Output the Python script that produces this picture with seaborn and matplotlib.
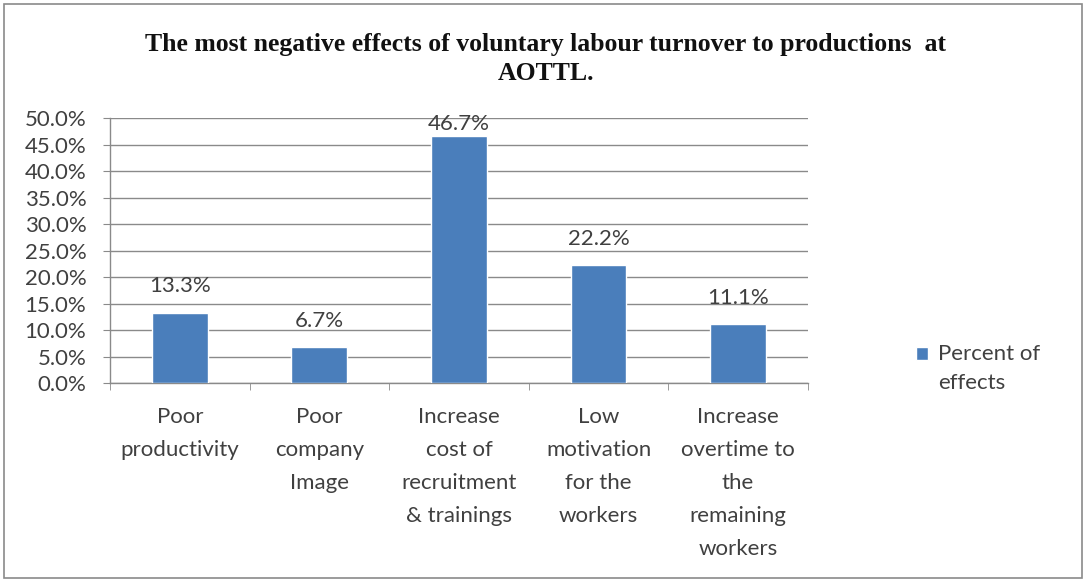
import matplotlib
matplotlib.use("Agg")
import matplotlib.pyplot as plt
import seaborn as sns
import pandas as pd
from matplotlib.ticker import PercentFormatter, FixedLocator, MultipleLocator
from matplotlib.patches import Rectangle
from matplotlib.container import BarContainer
from matplotlib.legend_handler import HandlerPatch, update_from_first_child

# data
categories = ["Poor\nproductivity", "Poor\ncompany\nImage",
              "Increase\ncost of\nrecruitment\n& trainings",
              "Low\nmotivation\nfor the\nworkers",
              "Increase\novertime to\nthe\nremaining\nworkers"]
percent = [0.133, 0.067, 0.467, 0.222, 0.111]
series_name = "Percent of\neffects"

df = pd.DataFrame({"effect": categories, "percent": percent})

sns.set_style("white")
plt.rcParams["font.family"] = ["Lato", "DejaVu Sans"]

fig = plt.figure(figsize=(10.87, 5.81), dpi=100)
ax = fig.add_axes([0.1012, 0.3408, 0.642, 0.456])

bar_color = "#4A7EBB"
sns.barplot(data=df, x="effect", y="percent", color=bar_color, width=0.4,
            saturation=1, label=series_name, ax=ax, zorder=3)

ax.set_ylim(0, 0.5)
ax.set_xlim(-0.5, len(categories) - 0.5)
ax.yaxis.set_major_locator(MultipleLocator(0.05))
ax.yaxis.set_major_formatter(PercentFormatter(1, decimals=1))
ax.grid(axis="y", color="#8a8a8a", linewidth=1.0, zorder=0)
ax.set_xlabel("")
ax.set_ylabel("")

for s in ["top", "right"]:
    ax.spines[s].set_visible(False)
for s in ["left", "bottom"]:
    ax.spines[s].set_color("#8a8a8a")
    ax.spines[s].set_linewidth(1.0)

txt_color = "#404040"
ax.tick_params(axis="y", labelsize=16, colors=txt_color, length=5,
               direction="out", left=True, color="#8a8a8a", pad=12)
ax.tick_params(axis="x", which="major", labelsize=16, colors=txt_color,
               length=0, pad=17)
ax.xaxis.set_minor_locator(FixedLocator([i - 0.5 for i in range(len(categories) + 1)]))
ax.tick_params(axis="x", which="minor", length=5, direction="out",
               bottom=True, color="#8a8a8a")
for lbl in ax.get_xticklabels():
    lbl.set_linespacing(1.82)
    lbl.set_verticalalignment("top")
    lbl.set_horizontalalignment("center")

# data labels; Excel keeps the label of the tallest bar inside the plot area
for cont in ax.containers:
    anns = ax.bar_label(cont, labels=[f"{v*100:.1f}%" for v in percent],
                        padding=12, fontsize=16, color=txt_color)
    for ann, v in zip(anns, percent):
        if v > 0.45:
            ann.xyann = (0, 1)

fig.suptitle("The most negative effects of voluntary labour turnover to productions  at\nAOTTL.",
             x=0.502, y=0.943, fontsize=18.5, fontweight="bold",
             family="Liberation Serif", linespacing=1.35, color="#111111")


# legend key sits next to the first line of the two-line label
def top_key(legend, orig_handle, xdescent, ydescent, width, height, fontsize):
    return Rectangle((-xdescent, -ydescent + 0.68 * fontsize), width, height)


key_handler = HandlerPatch(patch_func=top_key, update_func=update_from_first_child)
leg = ax.legend(loc="upper left", bbox_to_anchor=(0.824, 0.443),
                bbox_transform=fig.transFigure, frameon=False, fontsize=16,
                handlelength=0.55, handleheight=0.55, handletextpad=0.45,
                labelcolor=txt_color,
                handler_map={BarContainer: key_handler})
for t in leg.get_texts():
    t.set_linespacing(1.6)

fig.patches.append(Rectangle((0.004, 0.006), 0.991, 0.987, transform=fig.transFigure,
                             fill=False, edgecolor="#8a8a8a", linewidth=1.2))

fig.savefig("out.png", dpi=100)
